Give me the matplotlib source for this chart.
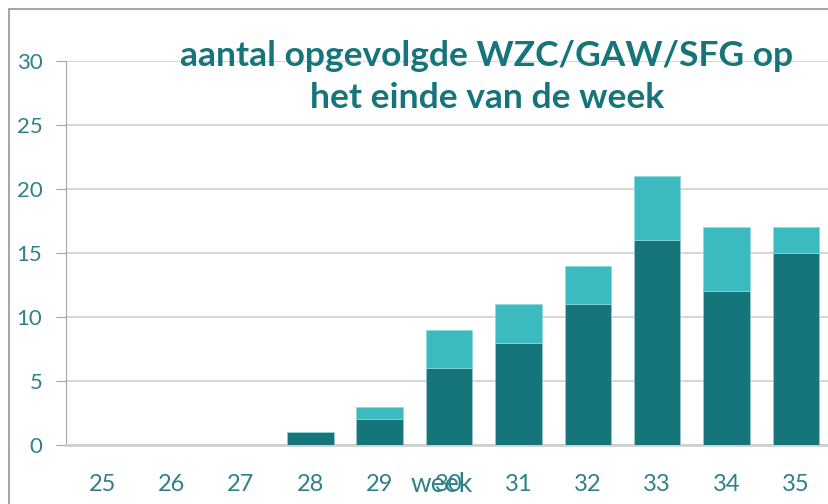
import matplotlib.pyplot as plt
from matplotlib.patches import Rectangle

# data
weeks = ["25", "26", "27", "28", "29", "30", "31", "32", "33", "34", "35"]
opgevolgd_donker = [0, 0, 0, 1, 2, 6, 8, 11, 16, 12, 15]
opgevolgd_licht = [0, 0, 0, 0, 1, 3, 3, 3, 5, 5, 2]

donker = "#16757A"
licht = "#3BBBC0"
tekst = "#2F8088"

plt.rcParams['font.family'] = ['Lato', 'DejaVu Sans']

fig = plt.figure(figsize=(8.29, 5.04), dpi=100)
ax = fig.add_axes([66 / 829, 1 - 445 / 504, 763 / 829, 384 / 504])

x = range(len(weeks))
ax.bar(x, opgevolgd_donker, width=0.67, color=donker, edgecolor="#9CC9CB", linewidth=0.5, zorder=3)
ax.bar(x, opgevolgd_licht, width=0.67, bottom=opgevolgd_donker, color=licht,
       edgecolor="#8FD6D9", linewidth=0.5, zorder=3)

ax.set_xlim(-0.52, 10.475)
ax.set_ylim(0, 30)
ax.set_yticks(range(0, 31, 5))
ax.set_xticks(list(x))
ax.set_xticklabels(weeks)
ax.yaxis.grid(True, color="#D0D0D0", linewidth=1.2, zorder=0)

for s in ["top", "right"]:
    ax.spines[s].set_visible(False)
ax.spines["left"].set_color("#A6A6A6")
ax.spines["bottom"].set_color("#D0D0D0")
ax.spines["bottom"].set_linewidth(2)
ax.tick_params(axis="x", length=0, pad=21, labelsize=17, labelcolor=tekst)
ax.tick_params(axis="y", length=7, color="#A6A6A6", pad=10, labelsize=16, labelcolor=tekst)

fig.text(442 / 829, 1 - 484 / 504, "week", ha="center", va="center", fontsize=19, color=tekst)
fig.text(487 / 829, 1 - 77 / 504, "aantal opgevolgde WZC/GAW/SFG op\nhet einde van de week",
         ha="center", va="center", fontsize=25.5, fontweight="bold", color=donker, linespacing=1.38)

# kader rond de grafiek
fig.add_artist(Rectangle((9 / 829, -0.1), 1.0, 1 - 9 / 504 + 0.1, transform=fig.transFigure,
                         fill=False, edgecolor="#A6A6A6", linewidth=1.5))

fig.savefig("out.png", dpi=100)
